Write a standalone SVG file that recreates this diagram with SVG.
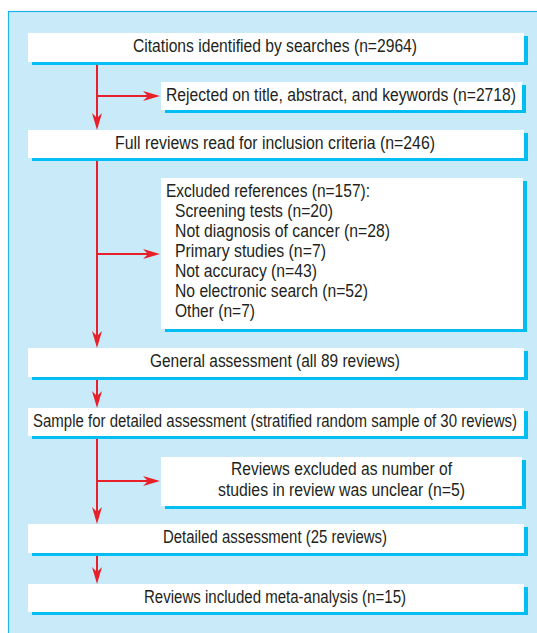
<svg xmlns="http://www.w3.org/2000/svg" width="537" height="633" viewBox="0 0 537 633">
<defs>
<style>
.box{fill:#ffffff}
.sh{fill:#00bdf2}
.t{font-family:"Liberation Sans Narrow","Liberation Sans",Arial,sans-serif;font-size:17.5px;fill:#231f20}
.m{text-anchor:middle}
.c{stroke:#e8202a;stroke-width:2;fill:none}
</style>
<marker id="ah" markerUnits="userSpaceOnUse" viewBox="0 0 17 10" markerWidth="17" markerHeight="10" refX="7" refY="5" orient="auto">
<path d="M17,5 L0,0 L5,5 L0,10 Z" fill="#e8202a"/>
</marker>
</defs>
<rect x="0" y="0" width="537" height="633" fill="#ffffff"/>
<rect x="8.5" y="11.5" width="540" height="630" fill="#c8eaf9" stroke="#1fb1ea" stroke-width="1.2"/>

<g id="connectors">
<line class="c" x1="97" y1="62" x2="97" y2="120" marker-end="url(#ah)"/>
<line class="c" x1="97" y1="96" x2="150" y2="96" marker-end="url(#ah)"/>
<line class="c" x1="97" y1="158" x2="97" y2="338" marker-end="url(#ah)"/>
<line class="c" x1="97" y1="254" x2="150" y2="254" marker-end="url(#ah)"/>
<line class="c" x1="97" y1="377" x2="97" y2="398" marker-end="url(#ah)"/>
<line class="c" x1="97" y1="436" x2="97" y2="514" marker-end="url(#ah)"/>
<line class="c" x1="97" y1="481" x2="150" y2="481" marker-end="url(#ah)"/>
<line class="c" x1="97" y1="553" x2="97" y2="574" marker-end="url(#ah)"/>
</g>

<g id="n1">
<rect class="sh" x="32" y="36" width="496" height="29"/>
<rect class="box" x="28" y="33" width="496" height="29"/>
<text class="t m" x="275" y="52" textLength="284" lengthAdjust="spacingAndGlyphs">Citations identified by searches (n=2964)</text>
</g>
<g id="n2">
<rect class="sh" x="165" y="85" width="361" height="28"/>
<rect class="box" x="161" y="82" width="361" height="28"/>
<text class="t" x="166" y="100.5" textLength="350" lengthAdjust="spacingAndGlyphs">Rejected on title, abstract, and keywords (n=2718)</text>
</g>
<g id="n3">
<rect class="sh" x="32" y="133" width="496" height="28"/>
<rect class="box" x="28" y="130" width="496" height="28"/>
<text class="t m" x="275" y="148.5" textLength="320" lengthAdjust="spacingAndGlyphs">Full reviews read for inclusion criteria (n=246)</text>
</g>
<g id="n4">
<rect class="sh" x="165" y="181" width="362" height="151"/>
<rect class="box" x="161" y="178" width="362" height="151"/>
<text class="t" x="166" y="196.5" textLength="204" lengthAdjust="spacingAndGlyphs">Excluded references (n=157):</text>
<text class="t" x="175" y="217" textLength="158" lengthAdjust="spacingAndGlyphs">Screening tests (n=20)</text>
<text class="t" x="175" y="237" textLength="215" lengthAdjust="spacingAndGlyphs">Not diagnosis of cancer (n=28)</text>
<text class="t" x="175" y="257" textLength="151" lengthAdjust="spacingAndGlyphs">Primary studies (n=7)</text>
<text class="t" x="175" y="277" textLength="142" lengthAdjust="spacingAndGlyphs">Not accuracy (n=43)</text>
<text class="t" x="175" y="297" textLength="193" lengthAdjust="spacingAndGlyphs">No electronic search (n=52)</text>
<text class="t" x="175" y="317" textLength="80" lengthAdjust="spacingAndGlyphs">Other (n=7)</text>
</g>
<g id="n5">
<rect class="sh" x="32" y="351" width="496" height="29"/>
<rect class="box" x="28" y="348" width="496" height="29"/>
<text class="t m" x="275" y="367" textLength="250" lengthAdjust="spacingAndGlyphs">General assessment (all 89 reviews)</text>
</g>
<g id="n6">
<rect class="sh" x="32" y="411" width="496" height="28"/>
<rect class="box" x="28" y="408" width="496" height="28"/>
<text class="t m" x="275" y="426.5" textLength="484" lengthAdjust="spacingAndGlyphs">Sample for detailed assessment (stratified random sample of 30 reviews)</text>
</g>
<g id="n7">
<rect class="sh" x="165" y="460" width="361" height="49"/>
<rect class="box" x="161" y="457" width="361" height="49"/>
<text class="t m" x="341.5" y="474.5" textLength="221" lengthAdjust="spacingAndGlyphs">Reviews excluded as number of</text>
<text class="t m" x="341.5" y="495.5" textLength="247" lengthAdjust="spacingAndGlyphs">studies in review was unclear (n=5)</text>
</g>
<g id="n8">
<rect class="sh" x="32" y="527" width="496" height="29"/>
<rect class="box" x="28" y="524" width="496" height="29"/>
<text class="t m" x="275" y="542.5" textLength="224" lengthAdjust="spacingAndGlyphs">Detailed assessment (25 reviews)</text>
</g>
<g id="n9">
<rect class="sh" x="32" y="587" width="496" height="28"/>
<rect class="box" x="28" y="584" width="496" height="28"/>
<text class="t m" x="275" y="602.5" textLength="262" lengthAdjust="spacingAndGlyphs">Reviews included meta-analysis (n=15)</text>
</g>
</svg>
